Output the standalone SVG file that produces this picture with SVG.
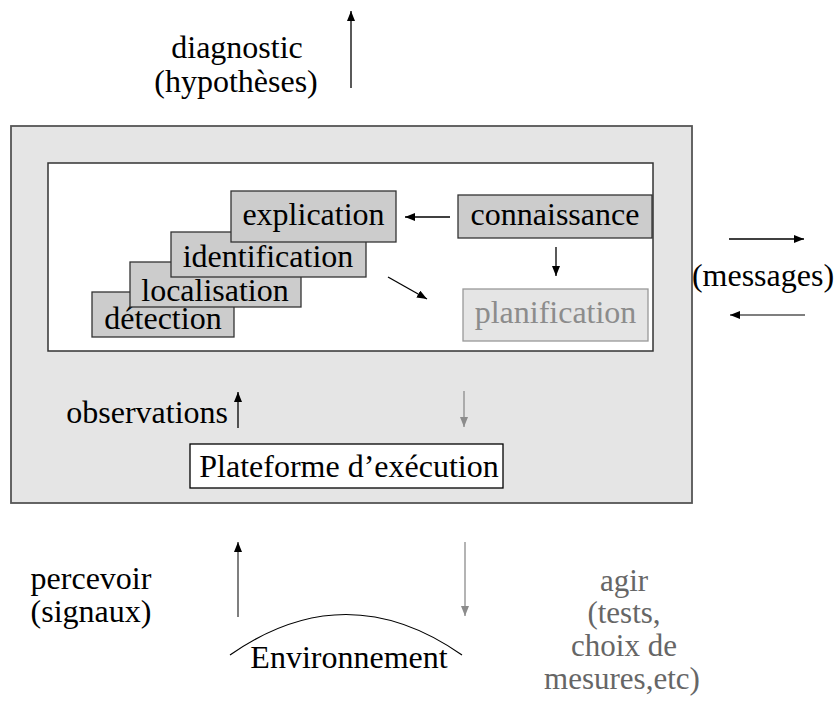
<svg xmlns="http://www.w3.org/2000/svg" width="838" height="706" viewBox="0 0 838 706">
  <style>
    text { font-family: "Liberation Serif", "Times New Roman", serif; font-size: 32px; fill: #000; }
    .c { text-anchor: middle; }
    .grey { fill: #666; font-size: 31px; }
    .light { fill: #8c8c8c; }
    .step { fill: #cccccc; stroke: #333; stroke-width: 1.3; }
    .ln { fill: none; stroke: #000; stroke-width: 1.3; }
    .dk { fill: none; stroke: #555; stroke-width: 1.5; }
    .gr { fill: none; stroke: #8c8c8c; stroke-width: 1.3; }
  </style>
  <defs>
    <marker id="ah" viewBox="0 0 10 8" refX="10" refY="4" markerWidth="10" markerHeight="8" markerUnits="userSpaceOnUse" orient="auto">
      <path d="M0,0 L10,4 L0,8 Z" fill="#000"/>
    </marker>
    <marker id="ahg" viewBox="0 0 10 8" refX="10" refY="4" markerWidth="10" markerHeight="8" markerUnits="userSpaceOnUse" orient="auto">
      <path d="M0,0 L10,4 L0,8 Z" fill="#8c8c8c"/>
    </marker>
  </defs>

  <!-- agent frame -->
  <g id="agent">
    <rect x="11" y="126" width="681" height="377" fill="#e5e5e5" stroke="#555" stroke-width="1.8"/>
    <rect x="48" y="163" width="605" height="188" fill="#fff" stroke="#333" stroke-width="1.5"/>
  </g>

  <!-- diagnosis stages, stacked -->
  <g id="detection">
    <rect class="step" x="92" y="292" width="142" height="45"/>
    <text class="c" x="163" y="329">détection</text>
  </g>
  <g id="localisation">
    <rect class="step" x="130" y="262" width="171" height="45"/>
    <text class="c" x="215" y="301">localisation</text>
  </g>
  <g id="identification">
    <rect class="step" x="171" y="232" width="195" height="45"/>
    <text class="c" x="268" y="267">identification</text>
  </g>
  <g id="explication">
    <rect class="step" x="231" y="191" width="165" height="51"/>
    <text class="c" x="313.5" y="225">explication</text>
  </g>
  <g id="connaissance">
    <rect class="step" x="458" y="195" width="194" height="43"/>
    <text class="c" x="555" y="225">connaissance</text>
  </g>
  <g id="planification">
    <rect x="463" y="289" width="185" height="52" fill="#e5e5e5" stroke="#999" stroke-width="1.3"/>
    <text class="c light" x="555.5" y="323">planification</text>
  </g>
  <g id="plateforme">
    <rect x="190" y="444" width="313" height="44" fill="#fff" stroke="#000" stroke-width="1.3"/>
    <text class="c" x="349" y="477">Plateforme d’exécution</text>
  </g>
  <g id="environnement">
    <path d="M230,655 Q346,574 462,655" fill="none" stroke="#000" stroke-width="1.2"/>
    <text class="c" x="349" y="668">Environnement</text>
  </g>

  <!-- labels -->
  <g id="labels">
    <text class="c" x="237" y="58">diagnostic</text>
    <text class="c" x="236" y="92">(hypothèses)</text>
    <text class="c" x="763" y="286">(messages)</text>
    <text x="228" y="423" text-anchor="end">observations</text>
    <text class="c" x="91" y="589">percevoir</text>
    <text class="c" x="91" y="622">(signaux)</text>
    <text class="c grey" x="624" y="591">agir</text>
    <text class="c grey" x="624" y="623">(tests,</text>
    <text class="c grey" x="624" y="656">choix de</text>
    <text class="c grey" x="622" y="689">mesures,etc)</text>
  </g>

  <!-- connectors -->
  <g id="connectors">
    <line class="ln" x1="450" y1="217" x2="405" y2="217" marker-end="url(#ah)"/>
    <line class="ln" x1="556" y1="247" x2="556" y2="276" marker-end="url(#ah)"/>
    <line class="ln" x1="388" y1="277" x2="427" y2="299" marker-end="url(#ah)"/>
    <line class="ln" x1="351" y1="88" x2="351" y2="11" marker-end="url(#ah)"/>
    <line class="ln" x1="729" y1="239" x2="804" y2="239" marker-end="url(#ah)"/>
    <line class="dk" x1="805" y1="315" x2="730" y2="315" marker-end="url(#ah)"/>
    <line class="ln" x1="238" y1="428" x2="238" y2="392" marker-end="url(#ah)"/>
    <line class="gr" x1="464" y1="391" x2="464" y2="427" marker-end="url(#ahg)"/>
    <line class="dk" x1="238" y1="617" x2="238" y2="542" marker-end="url(#ah)"/>
    <line class="gr" x1="465" y1="542" x2="465" y2="616" marker-end="url(#ahg)"/>
  </g>
</svg>
